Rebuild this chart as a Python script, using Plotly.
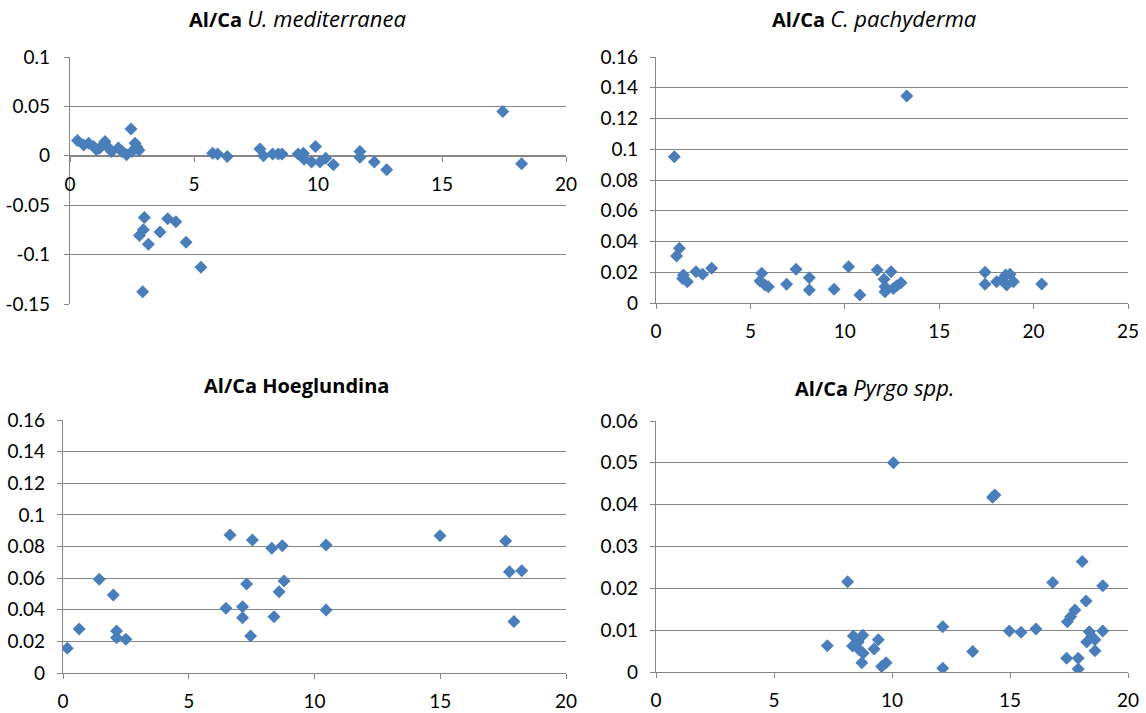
import plotly.graph_objects as go

# ---- Al/Ca data for each foraminifera taxon ----
# U. mediterranea
umed_x = [0.3, 0.55, 0.75, 0.95, 1.07, 1.2, 1.41, 1.5, 1.68, 1.95, 2.1, 2.28, 2.46, 2.5, 2.62, 2.7, 2.78,
          2.8, 2.96, 3.0, 3.16, 2.93, 3.63, 3.94, 4.27, 4.68, 5.28,
          5.75, 5.95, 6.34, 7.66, 7.8, 8.17, 8.4, 8.55, 9.2, 9.41, 9.44, 9.74, 9.9, 10.08, 10.31, 10.62,
          11.69, 11.69, 12.27, 12.77, 17.45, 18.21]
umed_y = [0.0155, 0.011, 0.0128, 0.0094, 0.006, 0.0078, 0.0145, 0.0094, 0.0044, 0.0078, 0.0044, 0.001,
          0.027, 0.0044, 0.0128, 0.009, 0.0055,
          -0.0806, -0.0749, -0.0624, -0.0894, -0.1377, -0.0772, -0.0638, -0.0668, -0.0874, -0.1127,
          0.0027, 0.0017, -0.0007, 0.007, 0.0, 0.0017, 0.0017, 0.0017, 0.0017, 0.0027, -0.0034, -0.0064,
          0.0094, -0.0064, -0.0024, -0.0091, 0.0044, -0.0014, -0.0064, -0.0142, 0.0449, -0.0081]

# C. pachyderma
cpach_x = [0.97, 1.09, 1.24, 1.45, 1.41, 1.66, 2.12, 2.47, 2.95, 5.6, 5.51, 5.77, 5.95, 6.92, 7.42,
           8.12, 8.12, 9.43, 10.2, 10.8, 13.28, 11.72, 12.08, 12.13, 12.13, 12.45, 12.57, 12.75, 12.98,
           17.43, 17.43, 18.04, 18.31, 18.52, 18.57, 18.75, 18.93, 20.43]
cpach_y = [0.0952, 0.0306, 0.0356, 0.0182, 0.016, 0.0139, 0.0204, 0.0187, 0.0226, 0.0193, 0.0143,
           0.0117, 0.0106, 0.0122, 0.0219, 0.0165, 0.0085, 0.0089, 0.0236, 0.0052, 0.1346, 0.0215,
           0.0154, 0.0106, 0.0073, 0.0204, 0.0095, 0.0113, 0.0132, 0.02, 0.0122, 0.0139, 0.015, 0.0182,
           0.0117, 0.0187, 0.0139, 0.0124]

# Hoeglundina
hoeg_x = [0.17, 0.64, 1.44, 2.0, 2.13, 2.13, 2.5, 6.48, 6.64, 7.14, 7.14, 7.3, 7.46, 7.53, 8.3, 8.39,
          8.59, 8.72, 8.79, 10.46, 10.46, 14.99, 17.6, 17.75, 17.93, 18.24]
hoeg_y = [0.0156, 0.0278, 0.0593, 0.0493, 0.0266, 0.0223, 0.0213, 0.0409, 0.0873, 0.0419, 0.035,
          0.0563, 0.0234, 0.0841, 0.0789, 0.0356, 0.0514, 0.0805, 0.0582, 0.081, 0.0398, 0.0868,
          0.0835, 0.0641, 0.0325, 0.0647]

# Pyrgo spp.
pyrgo_x = [7.26, 8.12, 8.36, 8.76, 8.33, 8.57, 8.61, 8.78, 8.72, 9.42, 9.24, 9.56, 9.75, 10.06, 12.15,
           12.15, 13.42, 14.26, 14.36, 14.97, 15.47, 16.1, 16.81, 17.43, 17.57, 17.75, 18.06, 18.22,
           18.93, 17.4, 17.89, 17.89, 18.36, 18.46, 18.25, 18.6, 18.93, 18.6]
pyrgo_y = [0.0063, 0.0216, 0.0086, 0.0088, 0.0062, 0.0072, 0.0053, 0.0045, 0.0022, 0.0077, 0.0055,
           0.0013, 0.0022, 0.05, 0.0108, 0.0009, 0.0049, 0.0418, 0.0423, 0.0098, 0.0095, 0.0103,
           0.0214, 0.012, 0.0132, 0.0148, 0.0264, 0.017, 0.0206, 0.0033, 0.0033, 0.0007, 0.0096,
           0.0084, 0.0072, 0.0077, 0.0098, 0.0051]

# ---- tick labels ----
umed_yticks = [-0.15, -0.1, -0.05, 0, 0.05, 0.1]
umed_ylabels = ["-0.15", "-0.1", "-0.05", "0", "0.05", "0.1"]
cpach_yticks = [0, 0.02, 0.04, 0.06, 0.08, 0.1, 0.12, 0.14, 0.16]
cpach_ylabels = ["0", "0.02", "0.04", "0.06", "0.08", "0.1", "0.12", "0.14", "0.16"]
hoeg_yticks = cpach_yticks
hoeg_ylabels = cpach_ylabels
pyrgo_yticks = [0, 0.01, 0.02, 0.03, 0.04, 0.05, 0.06]
pyrgo_ylabels = ["0", "0.01", "0.02", "0.03", "0.04", "0.05", "0.06"]
x_ticks_20 = [0, 5, 10, 15, 20]
x_ticks_25 = [0, 5, 10, 15, 20, 25]

ITALIC = '<span style="font-size:22px"><i>{}</i></span>'
titles = ["<b>Al/Ca</b> " + ITALIC.format("U. mediterranea"),
          "<b>Al/Ca</b> " + ITALIC.format("C. pachyderma"),
          "<b>Al/Ca Hoeglundina</b>",
          "<b>Al/Ca</b> " + ITALIC.format("Pyrgo spp.")]

W, H = 1146, 713
FONT = "Lato"
TITLE_FONT = "Open Sans"
GRID = "#868686"
MARK = "#4A7EBB"


def px_x(a, b):
    return [a / W, b / W]


def px_y(top, bottom):
    return [1 - bottom / H, 1 - top / H]


fig = go.Figure()

series = [(umed_x, umed_y), (cpach_x, cpach_y), (hoeg_x, hoeg_y), (pyrgo_x, pyrgo_y)]
for i, (xs, ys) in enumerate(series):
    suffix = "" if i == 0 else str(i + 1)
    fig.add_trace(go.Scatter(
        x=xs, y=ys, mode="markers", xaxis="x" + suffix, yaxis="y" + suffix,
        marker=dict(symbol="diamond", size=10, color=MARK, line=dict(width=0)),
        showlegend=False, hoverinfo="x+y"))

axis_common = dict(showline=True, linecolor=GRID, linewidth=1.4, ticks="outside",
                   ticklen=5, tickcolor=GRID, tickwidth=1.2, zeroline=False, automargin=False,
                   tickfont=dict(family=FONT, size=19, color="#000000"), layer="below traces")

# panel geometry in pixels: (left, right, top, bottom)
boxes = [(70, 566, 57, 304), (656, 1128, 57, 303), (63, 566, 420, 673), (656, 1128, 421, 672)]
yranges = [[-0.15, 0.1], [0, 0.16], [0, 0.16], [0, 0.06]]
xranges = [[0, 20], [0, 25], [0, 20], [0, 20]]
xticks = [x_ticks_20, x_ticks_25, x_ticks_20, x_ticks_20]
yticks = [(umed_yticks, umed_ylabels), (cpach_yticks, cpach_ylabels),
          (hoeg_yticks, hoeg_ylabels), (pyrgo_yticks, pyrgo_ylabels)]
ystandoff = [10, 8, 8, 8]

layout = {}
for i, (l, r, t, b) in enumerate(boxes):
    suffix = "" if i == 0 else str(i + 1)
    xa = dict(axis_common, domain=px_x(l, r), range=xranges[i], tickvals=xticks[i],
              ticktext=[str(v) for v in xticks[i]], showgrid=False, ticklabelstandoff=6)
    ya = dict(axis_common, domain=px_y(t, b), range=yranges[i], tickvals=yticks[i][0],
              ticktext=yticks[i][1], showgrid=True, gridcolor=GRID, gridwidth=1.1,
              ticklabelstandoff=ystandoff[i])
    ya["anchor"] = "x" + suffix
    if i == 0:
        # x axis crosses the y axis at zero
        y0 = yranges[0][0]
        y1 = yranges[0][1]
        frac = (0 - y0) / (y1 - y0)
        d = px_y(t, b)
        xa["anchor"] = "free"
        xa["position"] = d[0] + frac * (d[1] - d[0])
    else:
        xa["anchor"] = "y" + suffix
    layout["xaxis" + suffix] = xa
    layout["yaxis" + suffix] = ya

title_pos = [(297, 18), (874, 18), (296, 385), (874, 387)]
annotations = []
for (cx, cy), txt in zip(title_pos, titles):
    annotations.append(dict(text=txt, x=cx / W, y=1 - cy / H, xref="paper", yref="paper",
                            xanchor="center", yanchor="middle", showarrow=False,
                            font=dict(family=TITLE_FONT, size=20, color="#000000")))

fig.update_layout(width=W, height=H, autosize=False, margin=dict(l=0, r=0, t=0, b=0, pad=0),
                  paper_bgcolor="white", plot_bgcolor="white",
                  annotations=annotations, **layout)

fig.write_html("out.html")
